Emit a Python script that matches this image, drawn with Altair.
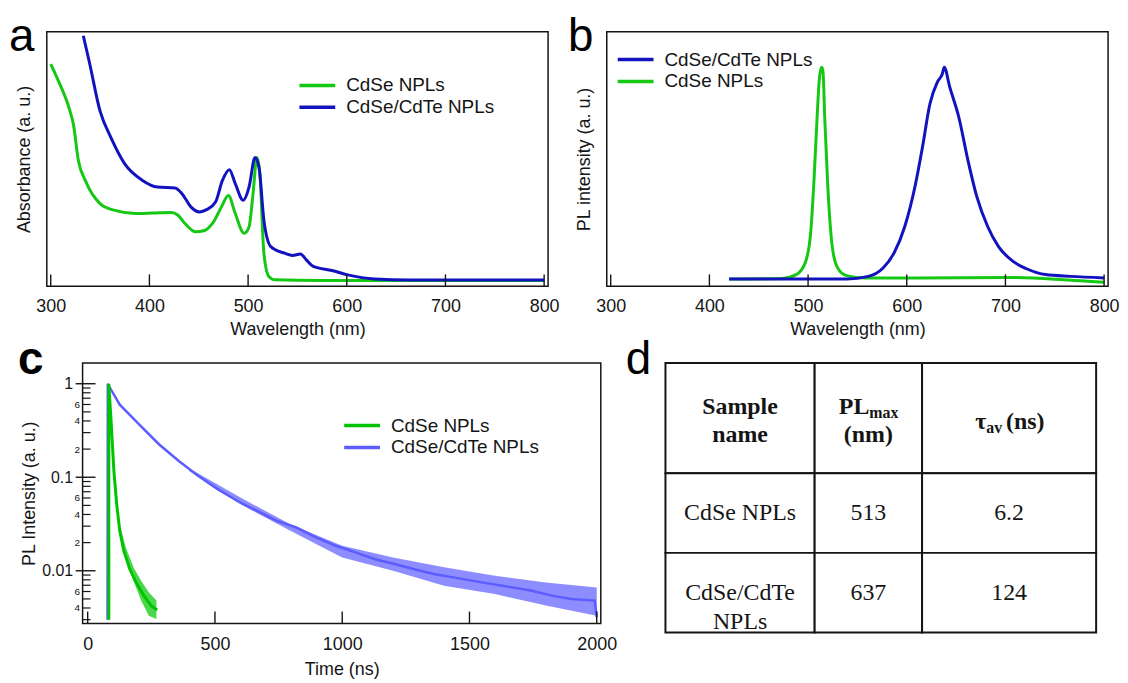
import altair as alt
import pandas as pd

# ---------------- data ----------------
panel_letters = ["a", "b", "c", "d"]
series_names = ["CdSe NPLs", "CdSe/CdTe NPLs"]

# (a) absorbance (arbitrary units, 0..1 of the frame)
a_green_wl = [300, 308, 319, 323, 328, 335, 350, 364, 386, 404, 422, 429, 436, 447, 455,
              465, 473, 480, 487, 496, 501, 505, 509, 512, 516, 521, 527, 574, 800]
a_green_abs = [0.873, 0.805, 0.695, 0.636, 0.494, 0.416, 0.325, 0.299, 0.286, 0.288, 0.29,
               0.279, 0.247, 0.214, 0.218, 0.253, 0.312, 0.357, 0.286, 0.208, 0.234, 0.364,
               0.506, 0.44, 0.13, 0.039, 0.026, 0.023, 0.023]
a_blue_wl = [333, 339, 350, 361, 375, 393, 408, 426, 433, 442, 451, 458, 467, 474, 481, 487,
             495, 501, 507, 511, 516, 523, 537, 545, 553, 559, 566, 585, 601, 628, 664, 800]
a_blue_abs = [0.984, 0.883, 0.688, 0.584, 0.481, 0.416, 0.39, 0.386, 0.364, 0.312, 0.292,
              0.301, 0.331, 0.416, 0.458, 0.403, 0.338, 0.39, 0.506, 0.468, 0.26, 0.156, 0.13,
              0.121, 0.127, 0.104, 0.078, 0.062, 0.045, 0.029, 0.025, 0.025]

# (b) photoluminescence (arbitrary units)
b_green_wl = [420, 473, 488, 497, 502.6, 506, 509, 511.3, 513.5, 515, 517, 520, 524.5, 530,
              539, 557.5, 612.5, 700, 759, 800]
b_green_pl = [0.029, 0.031, 0.046, 0.091, 0.209, 0.417, 0.652, 0.808, 0.86, 0.847, 0.652,
              0.391, 0.156, 0.072, 0.042, 0.033, 0.033, 0.035, 0.026, 0.016]
b_blue_wl = [420, 539, 561, 576, 587, 598, 609, 616, 623.5, 631, 636, 638, 643.6, 652.7, 662,
             671, 682, 693, 707.7, 722, 740.7, 766, 800]
b_blue_pl = [0.029, 0.029, 0.039, 0.072, 0.13, 0.235, 0.404, 0.548, 0.717, 0.802, 0.834, 0.86,
             0.782, 0.665, 0.495, 0.352, 0.235, 0.156, 0.098, 0.068, 0.046, 0.039, 0.033]

# (c) PL decay
c_green_t = [83, 83, 92, 103, 114, 126, 142, 165, 188, 219, 250, 273]
c_green_i = [0.003, 1.0, 0.397, 0.116, 0.0513, 0.0267, 0.0163, 0.0105, 0.0077, 0.0055,
             0.0042, 0.0038]
c_green_band_t = [120, 150, 180, 210, 240, 270]
c_green_band_hi = [0.036, 0.0177, 0.0109, 0.0078, 0.00588, 0.0048]
c_green_band_lo = [0.031, 0.0133, 0.0078, 0.0048, 0.0033, 0.00305]
c_blue_t = [78, 79, 88, 126, 203, 281, 358, 435, 512, 589, 666, 743, 820, 897, 975, 1052,
            1129, 1206, 1283, 1360, 1437, 1514, 1591, 1668, 1745, 1823, 1900, 1992, 2000]
c_blue_i = [0.003, 1.0, 0.90, 0.597, 0.366, 0.224, 0.149, 0.103, 0.0742, 0.0557, 0.0436,
            0.0341, 0.029, 0.0227, 0.0185, 0.0157, 0.0133, 0.0118, 0.0104, 0.00922, 0.0085,
            0.0078, 0.0072, 0.00664, 0.00612, 0.00542, 0.0050, 0.0048, 0.0032]
c_blue_band_t = [400, 600, 800, 1000, 1200, 1400, 1600, 1800, 2000]
c_blue_band_hi = [0.124, 0.0607, 0.031, 0.0185, 0.0139, 0.0109, 0.00885, 0.0075, 0.00664]
c_blue_band_lo = [0.116, 0.0513, 0.0265, 0.0139, 0.0100, 0.0069, 0.00564, 0.00424, 0.00331]

# tick values
wl_ticks = [300, 400, 500, 600, 700, 800]
time_ticks = [0, 500, 1000, 1500, 2000]
c_major = [1, 0.1, 0.01]
c_minor = [0.9, 0.8, 0.7, 0.6, 0.5, 0.4, 0.3, 0.2,
           0.09, 0.08, 0.07, 0.06, 0.05, 0.04, 0.03, 0.02,
           0.009, 0.008, 0.007, 0.006, 0.005, 0.004, 0.003]
c_label_values = [1, 0.6, 0.4, 0.2, 0.1, 0.06, 0.04, 0.02, 0.01, 0.006, 0.004]

# (d) table
table_header = ["Sample\nname", "PL", "max", "(nm)", "\u03c4", "av", "(ns)"]
sample_names = ["CdSe NPLs", "CdSe/CdTe\nNPLs"]
pl_max = ["513", "637"]
tau_av = ["6.2", "124"]

# ---------------- style / layout ----------------
SANS = "Liberation Sans"
SERIF = "Liberation Serif"
INK = "#151515"
GREEN_AB = "#14c814"
BLUE_AB = "#1212bf"
GREEN_C = "#00c400"
BLUE_C = "#5c5cff"

W_AB, H_AB = 504, 256
W_C, H_C = 521, 262
col_w = [150, 108, 175]
row_h = [111, 80, 80]
W_T, H_T = sum(col_w), sum(row_h)
ROW_OFFSET = 333  # distance between the tops of the two panel rows


def letter(ch, x, y, weight="normal"):
    return alt.Chart(pd.DataFrame({"t": [ch]})).mark_text(
        align="left", baseline="alphabetic", fontSize=46, font=SANS,
        fontWeight=weight, color="black"
    ).encode(text="t:N", x=alt.value(x), y=alt.value(y))


def legend(x, y):
    return alt.Legend(title=None, orient="none", legendX=x, legendY=y,
                      symbolType="stroke", symbolSize=1296, symbolStrokeWidth=3.5,
                      labelFontSize=19, labelFont=SANS, labelColor=INK, labelOffset=9,
                      clipHeight=22, rowPadding=0, padding=0)


def curve(xs, ys, name, xenc, yenc, color, width, interp):
    df = pd.DataFrame({"x": xs, "y": ys, "sample": name})
    return alt.Chart(df).mark_line(strokeWidth=width, interpolate=interp).encode(
        x=alt.X("x:Q", scale=xenc[0], axis=xenc[1]),
        y=alt.Y("y:Q", scale=yenc[0], axis=yenc[1]),
        color=color,
    )


# ---- panels a and b ----
xs_ab = alt.Scale(domain=[296, 804], nice=False, zero=False)
ys_ab = alt.Scale(domain=[0, 1], nice=False)
xax_ab = alt.Axis(title="Wavelength (nm)", values=wl_ticks, format="d", labelFlush=False,
                  labelOverlap=False, ticks=False, domain=False, grid=False,
                  labelPadding=11, titlePadding=5, minExtent=0)


def yax_ab(title):
    return alt.Axis(title=title, labels=False, ticks=False, domain=False, grid=False,
                    titlePadding=13, minExtent=0)


def xticks_ab():
    return alt.Chart(pd.DataFrame({"v": wl_ticks})).mark_rule(color=INK, strokeWidth=1.4).encode(
        x=alt.X("v:Q", scale=xs_ab, axis=xax_ab), y=alt.value(H_AB), y2=alt.value(H_AB - 12))


col_a = alt.Color("sample:N", scale=alt.Scale(domain=[series_names[0], series_names[1]],
                                              range=[GREEN_AB, BLUE_AB]), legend=legend(252, 43))
ya = (ys_ab, yax_ab("Absorbance (a. u.)"))
panel_a = alt.layer(
    curve(a_green_wl, a_green_abs, series_names[0], (xs_ab, xax_ab), ya, col_a, 3, "monotone"),
    curve(a_blue_wl, a_blue_abs, series_names[1], (xs_ab, xax_ab), ya, col_a, 3, "monotone"),
    xticks_ab(),
    letter(panel_letters[0], -38, 19),
).properties(width=W_AB, height=H_AB)

col_b = alt.Color("sample:N", scale=alt.Scale(domain=[series_names[1], series_names[0]],
                                              range=[BLUE_AB, GREEN_AB]), legend=legend(9, 17))
yb = (ys_ab, yax_ab("PL intensity (a. u.)"))
panel_b = alt.layer(
    curve(b_green_wl, b_green_pl, series_names[0], (xs_ab, xax_ab), yb, col_b, 3, "monotone"),
    curve(b_blue_wl, b_blue_pl, series_names[1], (xs_ab, xax_ab), yb, col_b, 3, "monotone"),
    xticks_ab(),
    letter(panel_letters[1], -39, 19),
).properties(width=W_AB, height=H_AB)

# ---- panel c ----
MAJOR = "(datum.value > 0.95) || (datum.value > 0.095 && datum.value < 0.105) || (datum.value > 0.0095 && datum.value < 0.0105)"
xs_c = alt.Scale(domain=[-20, 2016], nice=False, zero=False)
ys_c = alt.Scale(type="log", domain=[0.00273, 1.67], nice=False)
xax_c = alt.Axis(title="Time (ns)", values=time_ticks, format="d", labelFlush=False,
                 labelOverlap=False, ticks=False, domain=False, grid=False,
                 labelPadding=12, titlePadding=7, minExtent=0)
yax_c = alt.Axis(title="PL Intensity (a. u.)", values=c_label_values, format=".1~g",
                 labelExpr="(" + MAJOR + ") ? datum.label : slice(datum.label, -1)",
                 labelFontSize={"condition": {"test": MAJOR, "value": 16}, "value": 10},
                 labelPadding={"condition": {"test": MAJOR, "value": 10}, "value": 3},
                 labelOverlap=False, labelFlush=False, ticks=False, domain=False, grid=False,
                 titlePadding=3, minExtent=0)
col_c = alt.Color("sample:N", scale=alt.Scale(domain=[series_names[0], series_names[1]],
                                              range=[GREEN_C, BLUE_C]), legend=legend(261, 52))


def band(ts, hi, lo, name, color_hex):
    df = pd.DataFrame({"x": ts, "hi": hi, "lo": lo, "sample": name})
    return alt.Chart(df).mark_area(opacity=0.7, color=color_hex).encode(
        x=alt.X("x:Q", scale=xs_c, axis=xax_c),
        y=alt.Y("hi:Q", scale=ys_c, axis=yax_c),
        y2="lo:Q",
    )


c_xticks = alt.Chart(pd.DataFrame({"v": time_ticks})).mark_rule(color=INK, strokeWidth=1.4).encode(
    x=alt.X("v:Q", scale=xs_c, axis=xax_c), y=alt.value(H_C), y2=alt.value(H_C - 12))
c_ymajor = alt.Chart(pd.DataFrame({"v": c_major})).mark_rule(color=INK, strokeWidth=1.4).encode(
    y=alt.Y("v:Q", scale=ys_c, axis=yax_c), x=alt.value(-7), x2=alt.value(13))
c_yminor = alt.Chart(pd.DataFrame({"v": c_minor})).mark_rule(color=INK, strokeWidth=1.2).encode(
    y=alt.Y("v:Q", scale=ys_c, axis=yax_c), x=alt.value(0), x2=alt.value(8))

yc = (ys_c, yax_c)
panel_c = alt.layer(
    band(c_blue_band_t, c_blue_band_hi, c_blue_band_lo, series_names[1], BLUE_C),
    curve(c_blue_t, c_blue_i, series_names[1], (xs_c, xax_c), yc, col_c, 2.5, "linear"),
    band(c_green_band_t, c_green_band_hi, c_green_band_lo, series_names[0], GREEN_C),
    curve(c_green_t, c_green_i, series_names[0], (xs_c, xax_c), yc, col_c, 3, "linear"),
    c_xticks, c_ymajor, c_yminor,
    letter(panel_letters[2], -65, 11, "bold"),
).properties(width=W_C, height=H_C)

# ---- panel d (table) ----
xe = [0, col_w[0], col_w[0] + col_w[1], W_T]
ye = [0, row_h[0], row_h[0] + row_h[1], H_T]
cx = [(xe[i] + xe[i + 1]) / 2 for i in range(3)]
cy = [(ye[i] + ye[i + 1]) / 2 for i in range(3)]
xs_t = alt.Scale(domain=[0, W_T], nice=False, zero=False)
ys_t = alt.Scale(domain=[H_T, 0], nice=False, zero=False)

cells = pd.DataFrame([{"x0": xe[c], "x1": xe[c + 1], "y0": ye[r], "y1": ye[r + 1]}
                      for r in range(3) for c in range(3)])
cell_layer = alt.Chart(cells).mark_rect(fill="white", stroke=INK, strokeWidth=2).encode(
    x=alt.X("x0:Q", scale=xs_t, axis=None), x2="x1:Q",
    y=alt.Y("y0:Q", scale=ys_t, axis=None), y2="y1:Q")


def ttext(xv, yv, txt, **kw):
    df = pd.DataFrame({"x": [xv], "y": [yv], "t": [txt]})
    return alt.Chart(df).mark_text(font=SERIF, color=INK, **kw).encode(
        x=alt.X("x:Q", scale=xs_t, axis=None), y=alt.Y("y:Q", scale=ys_t, axis=None), text="t:N")


body = pd.DataFrame({"x": [cx[0], cx[1], cx[2]] * 2,
                     "y": [cy[1]] * 3 + [cy[2]] * 3,
                     "t": [sample_names[0], pl_max[0], tau_av[0], sample_names[1], pl_max[1], tau_av[1]]})
body_layer = alt.Chart(body).mark_text(font=SERIF, color=INK, fontSize=24, lineBreak="\n",
                                       lineHeight=30, baseline="middle").encode(
    x=alt.X("x:Q", scale=xs_t, axis=None), y=alt.Y("y:Q", scale=ys_t, axis=None), text="t:N")

hb = dict(fontWeight="bold", baseline="alphabetic")
panel_d = alt.layer(
    cell_layer,
    body_layer,
    ttext(cx[0], 51, table_header[0], fontSize=24, lineBreak="\n", lineHeight=29, align="center", **hb),
    ttext(cx[1], 51, table_header[1], fontSize=24, align="right", dx=1, **hb),
    ttext(cx[1], 51, table_header[2], fontSize=16, align="left", dx=1, dy=4, **hb),
    ttext(cx[1], 80, table_header[3], fontSize=24, align="center", **hb),
    ttext(cx[2], 66, table_header[4], fontSize=24, align="right", dx=-23, **hb),
    ttext(cx[2], 66, table_header[5], fontSize=16, align="left", dx=-23, dy=4, **hb),
    ttext(cx[2], 66, table_header[6], fontSize=24, align="left", dx=-3, **hb),
    letter(panel_letters[3], -40, 11),
).properties(width=W_T, height=H_T, view=alt.ViewBackground(strokeOpacity=0))

spacer = alt.Chart(pd.DataFrame({"v": [0]})).mark_point(opacity=0).properties(
    width=36, height=10, view=alt.ViewBackground(strokeOpacity=0))

top = alt.hconcat(panel_a, panel_b, spacing=59, bounds="flush").resolve_scale(
    color="independent").resolve_legend(color="independent")
bottom_inner = alt.hconcat(panel_c, panel_d, spacing=65, bounds="flush").resolve_scale(
    color="independent").resolve_legend(color="independent")
bottom = alt.hconcat(spacer, bottom_inner, spacing=0, bounds="flush").resolve_scale(
    color="independent").resolve_legend(color="independent")

chart = alt.vconcat(top, bottom, spacing=ROW_OFFSET, bounds="flush").resolve_scale(
    color="independent").resolve_legend(color="independent").properties(
    padding={"left": 0, "top": 3, "right": 0, "bottom": 0}
).configure(font=SANS).configure_view(stroke=INK, strokeWidth=1.5).configure_axis(
    labelFont=SANS, titleFont=SANS, labelFontSize=18, titleFontSize=18, labelColor=INK,
    titleColor=INK, titleFontWeight="normal")

chart.save("out.html", embed_options={"renderer": "svg", "actions": False})
